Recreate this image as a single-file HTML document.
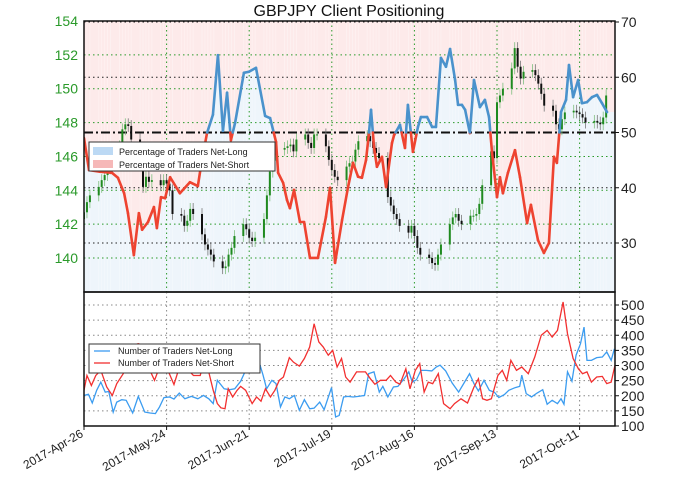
<!DOCTYPE html>
<html><head><meta charset="utf-8"><style>
body{margin:0;background:#fff;}
svg{display:block;font-family:"Liberation Sans",sans-serif;}
</style></head><body>
<svg id="c" width="680" height="488" viewBox="0 0 680 488"></svg>
<script>
// ---- data ----
const tickDays = [0,28,56,84,112,140,168];
const tickLabels = ["2017-Apr-26","2017-May-24","2017-Jun-21","2017-Jul-19","2017-Aug-16","2017-Sep-13","2017-Oct-11"];
const priceTicks = [140,142,144,146,148,150,152,154];
const pctTicks = [30,40,50,60,70];
const countTicks = [100,150,200,250,300,350,400,450,500];
const closes = [142.7,143.3,143.7,
144.2,144.6,144.9,145.3,145.7, 146.6,147.6,147.9,147.8,147.0, 145.5,144.2,144.8,144.5,144.6,
144.3,144.6,144.4,144.0,142.6, 142.5,141.9,142.2,142.9,142.6, 141.4,140.8,140.5,140.2,139.8,
139.4,139.5,140.2,140.6,141.3, 142.0,141.7,141.2,141.0,141.2, 142.3,143.7,145.1,146.1,146.4,
146.5,146.6,146.7,146.3,147.0, 147.3,146.8,146.5,147.3,147.3, 146.6,145.8,145.2,144.8,144.6,
145.4,145.6,145.7,146.4,146.9, 147.2,146.9,146.5,146.2,145.9, 143.6,143.1,142.6,142.3,141.9,
141.5,141.9,141.3,140.6,140.2, 140.0,139.7,139.6,140.2,140.8, 142.0,142.4,142.6,142.2,142.0,
142.5,142.5,142.6,143.2,144.3, 146.3,145.9,149.2,149.6,150.0, 151.2,152.4,151.3,150.6,151.0,
151.1,150.8,150.3,149.7,149.0, 148.7,147.9,147.6,148.2,148.6, 148.7,148.6,148.5,148.3,148.0,
148.1,148.0,147.9,148.3,149.6];
const pctDays = [0,1.7,5.4,9.5,11.5,13.6,14.9,16.9,18.6,19.7,21.7,23.7,24.7,26.1,27.5,29.2,32.5,35.9,38.6,39.7,41.7,43.7,45.4,47.1,48.5,49.8,51.2,54.2,55.9,58.3,61.4,63.1,65.1,65.8,67.5,68.8,69.8,71.2,73.2,74.6,76.6,79.3,82.0,83.4,85.1,87.5,89.5,91.2,92.9,94.2,95.6,96.6,97.3,98.3,99.3,101.0,102.4,104.4,105.1,107.1,108.8,109.8,111.5,113.2,114.2,116.3,118.0,119.3,121.0,122.7,124.1,125.8,126.8,128.1,129.2,130.8,132.2,134.2,135.9,137.3,138.3,140.0,141.0,142.0,143.7,146.1,147.8,150.2,151.5,153.9,155.9,157.6,159.3,160.3,161.7,163.4,164.4,165.8,167.5,168.8,170.5,172.2,173.9,175.6,177.3];
const pctLong = [49.0,43.2,42.9,42.7,41.8,39.0,35.4,27.8,35.4,32.4,33.8,36.5,32.7,38.3,38.1,41.9,39.0,41.0,40.3,44.1,49.9,53.2,64.0,50.3,57.2,48.6,51.7,60.8,61.0,61.7,53.0,52.6,48.3,42.7,40.9,37.8,36.3,39.6,33.8,33.8,27.3,27.3,34.7,40.0,26.4,34.2,40.1,44.5,42.0,41.8,45.0,49.9,54.1,47.4,43.8,45.6,40.1,48.1,49.5,51.4,47.2,55.0,46.5,51.0,52.8,52.8,51.0,51.0,63.5,61.9,65.1,59.5,55.0,55.0,54.1,49.9,59.5,54.6,55.9,52.8,46.5,38.3,41.9,39.0,42.7,46.8,41.9,33.6,36.9,30.5,28.2,30.0,45.6,44.5,53.7,55.9,62.2,56.4,59.5,55.3,55.5,56.4,56.8,55.3,53.7];
const longDays = [0,1.5,2.8,4.3,5.7,7.2,8.4,9.9,11.1,12.8,14.3,16.5,18.4,20.6,22.4,24.2,25.6,27.1,29.0,30.5,32.3,34.2,36.4,38.6,40.5,42.3,43.8,45.2,47.5,49.4,51.1,53.1,54.8,57.0,59.2,60.7,61.9,63.7,65.1,66.6,68.1,69.6,71.3,73.0,74.7,76.5,78.0,79.9,81.4,83.9,85.3,86.5,88.0,89.5,91.2,93.1,95.1,96.5,98.3,100.1,101.3,103.0,104.9,106.4,108.6,110.1,111.3,112.7,114.2,116.0,117.9,119.4,120.7,122.6,124.8,127.0,129.0,130.7,132.2,133.7,135.6,137.4,139.1,140.6,142.5,144.0,146.2,147.7,148.4,149.9,151.7,153.6,155.5,157.0,158.7,160.5,161.7,162.7,163.9,165.4,166.8,168.3,169.5,170.5,172.0,173.8,175.7,177.2,178.7,179.8];
const longCount = [201,205,176,218,245,212,214,146,179,187,185,143,198,146,143,141,163,194,196,189,209,190,198,190,201,190,174,251,223,220,223,248,284,295,317,268,223,251,240,163,196,190,201,152,187,157,159,179,154,227,130,135,196,198,196,198,201,273,279,212,231,196,229,231,257,279,245,253,284,284,282,295,301,282,242,212,245,273,240,216,251,218,212,194,204,218,227,231,268,207,196,209,220,172,185,174,190,172,279,248,334,372,427,317,317,326,328,345,317,355];
const shortDays = [0,1.0,2.5,4.0,5.7,7.7,9.6,11.1,13.3,15.0,16.5,18.4,20.2,22.1,23.9,25.4,27.3,28.7,30.5,32.0,33.5,35.4,37.1,39.4,40.8,42.3,43.8,45.2,46.4,47.8,48.9,50.4,51.9,53.1,54.8,57.0,58.5,60.0,61.5,63.2,64.7,66.2,67.6,69.6,71.0,73.0,74.7,76.5,78.0,79.6,81.1,82.8,84.3,85.8,87.3,88.7,90.2,92.4,93.9,95.4,97.1,98.6,100.5,102.4,103.9,105.7,107.1,109.1,110.5,112.3,113.8,115.3,116.7,118.2,120.1,121.9,124.1,125.6,127.8,130.0,132.2,133.7,135.1,136.6,138.1,140.3,141.8,143.3,144.7,146.6,148.4,150.6,152.8,155.0,157.0,158.7,160.5,162.4,163.9,165.8,167.6,169.0,170.5,172.0,173.8,175.7,177.2,178.7,180];
const shortCount = [218,267,234,267,284,229,201,240,273,300,367,372,367,289,251,289,311,278,237,284,306,284,267,267,317,278,218,174,160,157,223,196,218,231,218,174,196,182,223,196,218,251,262,326,311,298,323,361,438,378,361,334,350,295,323,262,245,279,279,279,256,238,251,251,267,245,238,289,223,284,306,212,245,240,273,174,157,174,190,176,229,256,190,185,190,267,284,251,317,284,295,273,328,400,416,394,416,510,405,323,289,273,279,245,262,264,240,245,301];

// ---- scales ----
const X0=84, X1=615, T0=21, T1=292, B0=292, B1=426, DAYS=180;
const xD = d => X0 + d*(X1-X0)/DAYS;
const yP = p => 21 + (154-p)*16.93;
const yPct = v => 22 + (70-v)*5.525;
const yC = v => 426 - (v-100)*0.3025;
const NS="http://www.w3.org/2000/svg";
const svgEl=document.getElementById('c');
function mk(tag, attrs, parent){const e=document.createElementNS(NS,tag);for(const k in attrs)e.setAttribute(k,attrs[k]);(parent||svgEl).appendChild(e);return e;}

const tdays=[];{let d=0;while(tdays.length<closes.length){const wd=(3+d)%7; if(wd!==0&&wd!==6)tdays.push(d); d++;}}

const defs=mk('defs',{});
const cp=mk('clipPath',{id:'topclip'},defs);mk('rect',{x:X0,y:T0,width:X1-X0,height:T1-T0},cp);
const cp2=mk('clipPath',{id:'botclip'},defs);mk('rect',{x:X0,y:B0,width:X1-X0,height:B1-B0},cp2);

// ---- top panel ----
const topG=mk('g',{'clip-path':'url(#topclip)'});


const bgR=mk('rect',{x:X0,y:T0,width:X1-X0,height:T1-T0,fill:'#fdeaea'},topG);


const polyPts=`${X0},${T1} ${X0},${yPct(pctLong[0])} `+pctDays.map((d,i)=>`${xD(d)},${yPct(pctLong[i])}`).join(' ')+` ${X1},${yPct(pctLong[pctLong.length-1])} ${X1},${T1}`;
const bgB=mk('polygon',{points:polyPts,fill:'#eef5fb'},topG);


for(let i=0;i<tdays.length;i++){mk('line',{x1:xD(tdays[i]),x2:xD(tdays[i]),y1:T0,y2:T1,stroke:'#ffffff','stroke-opacity':0.35,'stroke-width':0.8},topG);}

tickDays.forEach(d=>{const l=mk('line',{x1:xD(d),x2:xD(d),y1:T0,y2:T1,stroke:'#2a9a2a','stroke-width':1,'stroke-dasharray':'1.5,3'},topG);});
priceTicks.forEach(p=>{const l=mk('line',{x1:X0,x2:X1,y1:yP(p),y2:yP(p),stroke:'#2a9a2a','stroke-width':1,'stroke-dasharray':'1.5,3'},topG);});
pctTicks.forEach(v=>{if(v===50)return;const l=mk('line',{x1:X0,x2:X1,y1:yPct(v),y2:yPct(v),stroke:'#222','stroke-width':1,'stroke-dasharray':'1.5,3'},topG);});
const mid=mk('line',{x1:X0,x2:X1,y1:yPct(50),y2:yPct(50),stroke:'#111','stroke-width':2,'stroke-dasharray':'9,3,2,3'},topG);



for(let i=0;i<closes.length;i++){
  const o=i?closes[i-1]:closes[0]-0.4, c=closes[i], x=xD(tdays[i]);
  const up=c>=o, col=up?'#1f8a1f':'#111';
  const hi=Math.max(o,c)+0.35, lo=Math.min(o,c)-0.35;
  const w=mk('line',{x1:x,x2:x,y1:yP(hi),y2:yP(lo),stroke:up?'#7fbf7f':'#777','stroke-width':0.8},topG);
  
  
  const b=mk('rect',{x:x-1,y:yP(Math.max(o,c)),width:2,height:Math.max(1,Math.abs(yP(o)-yP(c))),fill:col},topG);
  
  
}

for(let i=0;i<pctDays.length-1;i++){
  const a=pctLong[i],b=pctLong[i+1],xa=xD(pctDays[i]),xb=xD(pctDays[i+1]);
  const segs=[];
  if((a>=50)===(b>=50)) segs.push([xa,a,xb,b,a>=50]);
  else{const t=(50-a)/(b-a),xm=xa+t*(xb-xa);segs.push([xa,a,xm,50,a>=50]);segs.push([xm,50,xb,b,b>=50]);}
  segs.forEach(s=>{const l=mk('line',{x1:s[0],y1:yPct(s[1]),x2:s[2],y2:yPct(s[3]),stroke:s[4]?'#4a92cc':'#ee4330','stroke-width':2.6,'stroke-linecap':'round'},topG);
  
  });
}
const tf=mk('rect',{x:X0,y:T0,width:X1-X0,height:T1-T0,fill:'none',stroke:'#111','stroke-width':1.5});



// ---- bottom panel ----
const botG=mk('g',{'clip-path':'url(#botclip)'});


tickDays.forEach(d=>{const l=mk('line',{x1:xD(d),x2:xD(d),y1:B0,y2:B1,stroke:'#888','stroke-width':1,'stroke-dasharray':'1.5,3'},botG);});
countTicks.forEach(v=>{const l=mk('line',{x1:X0,x2:X1,y1:yC(v),y2:yC(v),stroke:'#888','stroke-width':1,'stroke-dasharray':'1.5,3'},botG);});
const pl=mk('polyline',{points:longDays.map((d,i)=>`${xD(d)},${yC(longCount[i])}`).join(' '),fill:'none',stroke:'#3b9cf0','stroke-width':1.3},botG);


const ps=mk('polyline',{points:shortDays.map((d,i)=>`${xD(d)},${yC(shortCount[i])}`).join(' '),fill:'none',stroke:'#f23030','stroke-width':1.3},botG);


const bf=mk('rect',{x:X0,y:B0,width:X1-X0,height:B1-B0,fill:'none',stroke:'#111','stroke-width':1.5});



// ---- axes labels ----
priceTicks.forEach(p=>{const t=mk('text',{x:78,y:yP(p)+5,'text-anchor':'end','font-size':14,fill:'#2a9a2a'});t.textContent=p;});
pctTicks.forEach(v=>{const t=mk('text',{x:621,y:yPct(v)+5,'font-size':14,fill:'#222'});t.textContent=v;
 const k=mk('line',{x1:X1,x2:X1+4,y1:yPct(v),y2:yPct(v),stroke:'#111'});});
countTicks.forEach(v=>{const t=mk('text',{x:621,y:yC(v)+5,'font-size':14,fill:'#222'});t.textContent=v;
 const k=mk('line',{x1:X1,x2:X1+4,y1:yC(v),y2:yC(v),stroke:'#111'});});
tickDays.forEach((d,i)=>{const x=xD(d);const t=mk('text',{x:x,y:B1+10,'text-anchor':'end','font-size':12,fill:'#222',transform:`rotate(-30 ${x} ${B1+10})`});t.textContent=tickLabels[i];
 const k=mk('line',{x1:x,x2:x,y1:B1,y2:B1+4,stroke:'#111'});});

const title=mk('text',{x:349,y:16,'text-anchor':'middle','font-size':16,fill:'#111'});
title.textContent='GBPJPY Client Positioning';



// ---- legends ----
const lg=mk('g',{});


mk('rect',{x:89,y:142,width:186,height:29,fill:'#fff',stroke:'#333','stroke-width':1},lg);
[['#bcd9f4','Percentage of Traders Net-Long',146],['#f6b8b8','Percentage of Traders Net-Short',159]].forEach(e=>{
 const s=mk('rect',{x:93,y:e[2]+1,width:20,height:8,fill:e[0]},lg);
 const t=mk('text',{x:119,y:e[2]+9,'font-size':9,fill:'#222'},lg);t.textContent=e[1];});
const lg2=mk('g',{});


mk('rect',{x:89,y:344,width:171,height:29,fill:'#fff',stroke:'#333','stroke-width':1},lg2);
[['#3b9cf0','Number of Traders Net-Long',354],['#f23030','Number of Traders Net-Short',366]].forEach(e=>{
 const s=mk('line',{x1:94,x2:110,y1:e[2]-3,y2:e[2]-3,stroke:e[0],'stroke-width':1.3},lg2);
 const t=mk('text',{x:118,y:e[2],'font-size':9,fill:'#222'},lg2);t.textContent=e[1];});
</script>
</body></html>
